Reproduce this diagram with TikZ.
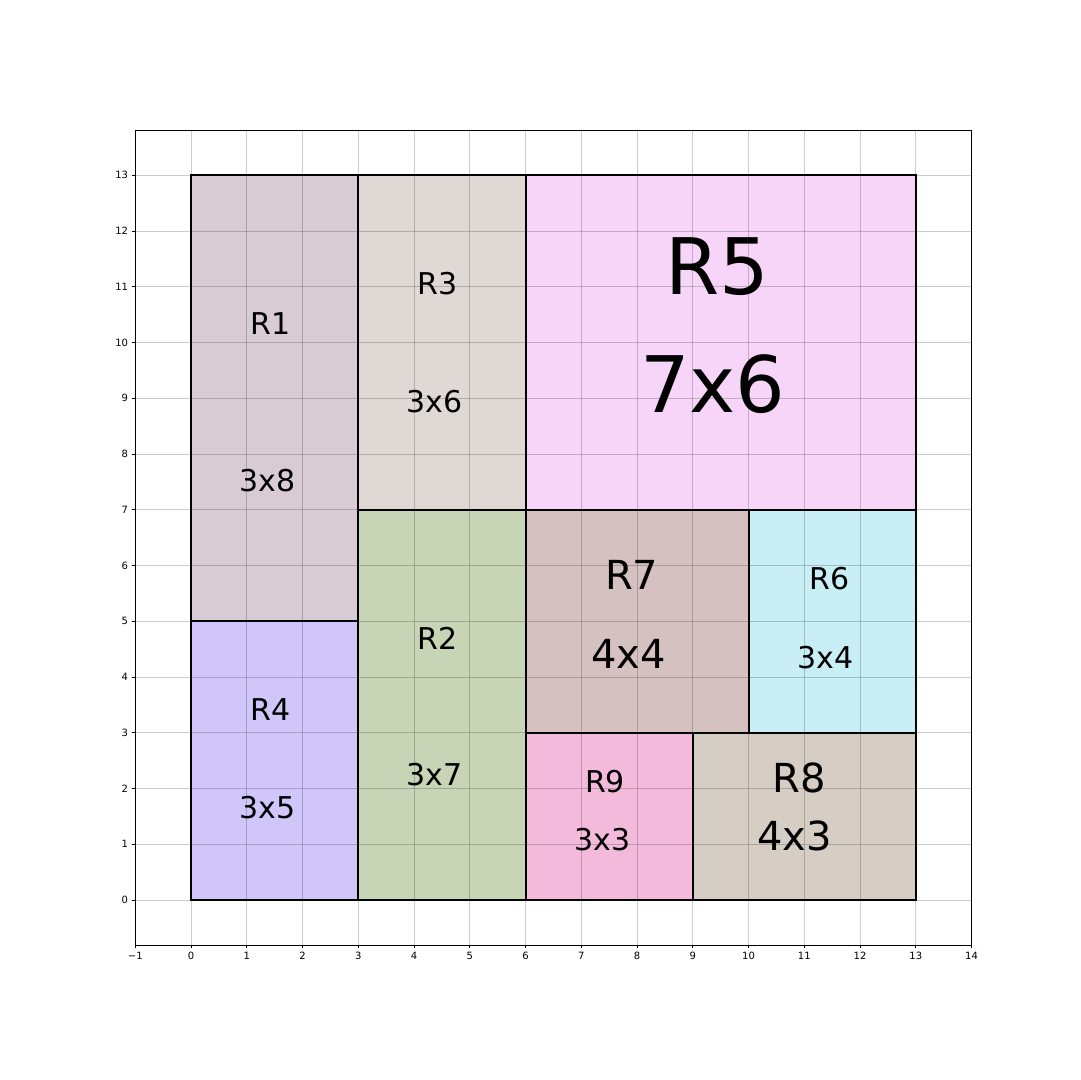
\documentclass[tikz,border=0pt]{standalone}
\usepackage{fontspec}
\setmainfont{DejaVu Sans}
\definecolor{cR1}{HTML}{D8CBD4}
\definecolor{cR3}{HTML}{DFD8D5}
\definecolor{cR5}{HTML}{F6D5F8}
\definecolor{cR4}{HTML}{D1C6FA}
\definecolor{cR2}{HTML}{C7D4B6}
\definecolor{cR7}{HTML}{D5C1BF}
\definecolor{cR6}{HTML}{C8EFF5}
\definecolor{cR9}{HTML}{F3BADB}
\definecolor{cR8}{HTML}{D6CDC4}
\tikzset{
  rectborder/.style={draw=black, line width=2pt},
  gridline/.style={draw=black, draw opacity=0.2, line width=0.8pt},
  spine/.style={draw=black, line width=0.8pt},
  ticklabel/.style={font=\fontsize{10}{12}\selectfont, inner sep=0pt},
  small/.style={anchor=base, inner sep=0pt, font=\fontsize{30}{36}\selectfont},
  medium/.style={anchor=base, inner sep=0pt, font=\fontsize{40}{48}\selectfont},
  large/.style={anchor=base, inner sep=0pt, font=\fontsize{78}{94}\selectfont}
}
\begin{document}
\begin{tikzpicture}[x=55.75pt, y=55.75pt]
\useasboundingbox (-3.4260,-3.2287) rectangle (15.9462,16.1435);
\fill[white] (-3.4260,-3.2287) rectangle (15.9462,16.1435);
% fills
\fill[cR1] (0,5) rectangle (3,13);
\fill[cR3] (3,7) rectangle (6,13);
\fill[cR5] (6,7) rectangle (13,13);
\fill[cR4] (0,0) rectangle (3,5);
\fill[cR2] (3,0) rectangle (6,7);
\fill[cR7] (6,3) rectangle (10,7);
\fill[cR6] (10,3) rectangle (13,7);
\fill[cR9] (6,0) rectangle (9,3);
\fill[cR8] (9,0) rectangle (13,3);
% grid
\foreach \i in {0,...,13} {
  \draw[gridline] (\i,-0.807) -- (\i,13.806);
  \draw[gridline] (-1,\i) -- (14,\i);
}
% rectangle borders
\draw[rectborder] (0,5) rectangle (3,13);
\draw[rectborder] (3,7) rectangle (6,13);
\draw[rectborder] (6,7) rectangle (13,13);
\draw[rectborder] (0,0) rectangle (3,5);
\draw[rectborder] (3,0) rectangle (6,7);
\draw[rectborder] (6,3) rectangle (10,7);
\draw[rectborder] (10,3) rectangle (13,7);
\draw[rectborder] (6,0) rectangle (9,3);
\draw[rectborder] (9,0) rectangle (13,3);
% axes
\draw[spine] (-1,-0.807) rectangle (14,13.806);
\foreach \i in {-1,...,14} {
  \draw[spine] (\i,-0.807) -- ++(0,-3.5pt);
}
\foreach \i in {0,...,14} {
  \node[ticklabel, anchor=north] (xt\i) at ([yshift=-7pt]\i,-0.807) {\i};
}
\node[ticklabel, anchor=north] (xtm1) at ([yshift=-7pt]-1,-0.807) {−1};
\foreach \i in {0,...,13} {
  \draw[spine] (-1,\i) -- ++(-3.5pt,0);
  \node[ticklabel, anchor=east] (yt\i) at ([xshift=-7pt]-1,\i) {\i};
}
% labels
\node[small] (r1t) at (1.430,10.152) {R1};
\node[small] (r1s) at (1.378,7.336) {3x8};
\node[small] (r3t) at (4.427,10.861) {R3};
\node[small] (r3s) at (4.371,8.753) {3x6};
\node[large] (r5t) at (9.435,10.861) {R5};
\node[large] (r5s) at (9.358,8.748) {7x6};
\node[small] (r4t) at (1.431,3.211) {R4};
\node[small] (r4s) at (1.372,1.465) {3x5};
\node[small] (r2t) at (4.422,4.497) {R2};
\node[small] (r2s) at (4.364,2.045) {3x7};
\node[medium] (r7t) at (7.905,5.578) {R7};
\node[medium] (r7s) at (7.853,4.156) {4x4};
\node[small] (r6t) at (11.448,5.578) {R6};
\node[small] (r6s) at (11.381,4.156) {3x4};
\node[small] (r9t) at (7.426,1.932) {R9};
\node[small] (r9s) at (7.381,0.884) {3x3};
\node[medium] (r8t) at (10.911,1.932) {R8};
\node[medium] (r8s) at (10.825,0.879) {4x3};
\end{tikzpicture}
\end{document}
